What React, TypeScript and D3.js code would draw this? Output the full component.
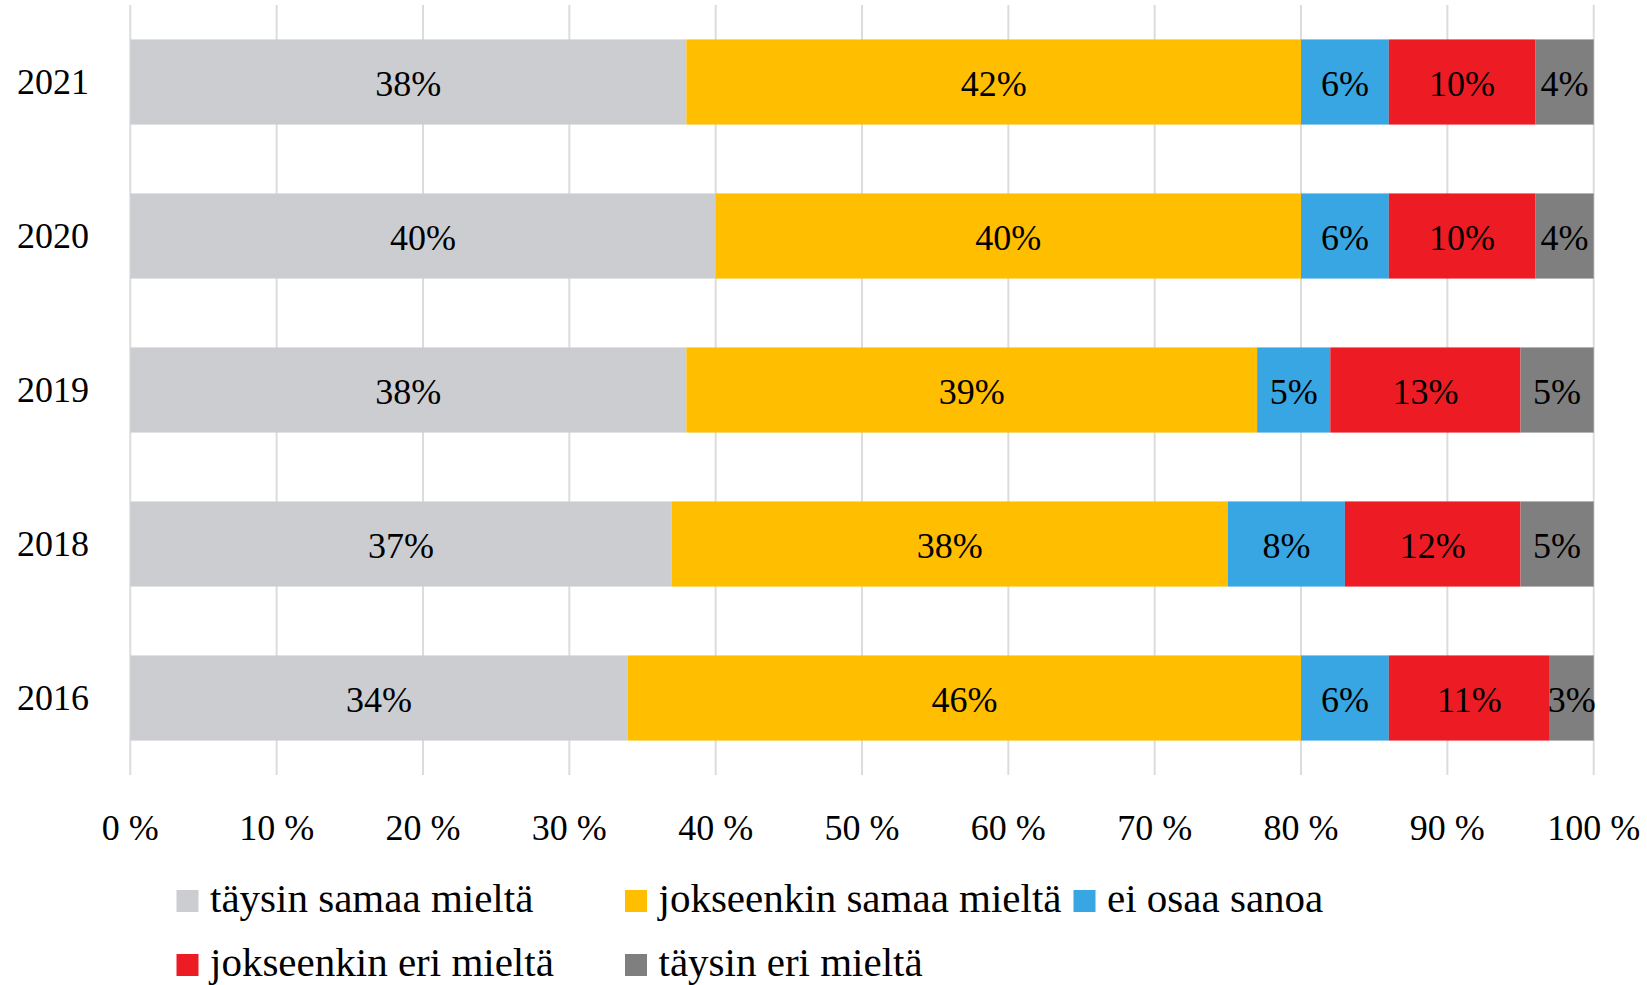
import { useRef, useEffect } from 'react';
import * as d3 from 'd3';

const YEARS = ['2021', '2020', '2019', '2018', '2016'];
const SERIES = ['täysin samaa mieltä', 'jokseenkin samaa mieltä', 'ei osaa sanoa', 'jokseenkin eri mieltä', 'täysin eri mieltä'];
const COLORS = ['#cccdd1', '#ffbe00', '#38a6e2', '#ed1c24', '#7f7f7f'];

// values per series, in YEARS order
const TAYSIN_SAMAA = [38, 40, 38, 37, 34];
const JOKSEENKIN_SAMAA = [42, 40, 39, 38, 46];
const EI_OSAA = [6, 6, 5, 8, 6];
const JOKSEENKIN_ERI = [10, 10, 13, 12, 11];
const TAYSIN_ERI = [4, 4, 5, 5, 3];

const TICKS = [0, 10, 20, 30, 40, 50, 60, 70, 80, 90, 100];

export default function App() {
  const ref = useRef<SVGSVGElement>(null);

  useEffect(() => {
    const svg = ref.current;
    if (!svg) return;
    const W = 1647, H = 985;
    const font = '"Liberation Serif", "Times New Roman", serif';

    d3.select(svg).selectAll('*').remove();
    const g = d3.select(svg).attr('viewBox', `0 0 ${W} ${H}`).append('g');

    const x = d3.scaleLinear().domain([0, 100]).range([130.3, 1593.7]);
    const y = d3.scaleBand().domain(YEARS).range([5, 775]).paddingInner(0.447).paddingOuter(0.2235);

    // Grid
    TICKS.forEach((t) => {
      g.append('line').attr('x1', x(t)).attr('x2', x(t)).attr('y1', 5).attr('y2', 775)
        .attr('stroke', '#dcdcdc').attr('stroke-width', 2);
      g.append('text').attr('x', x(t)).attr('y', 840).attr('text-anchor', 'middle')
        .attr('font-family', font).attr('font-size', 36).attr('fill', '#000').text(`${t} %`);
    });

    const rows = YEARS.map((yr, i) => ({
      year: yr,
      vals: [TAYSIN_SAMAA[i], JOKSEENKIN_SAMAA[i], EI_OSAA[i], JOKSEENKIN_ERI[i], TAYSIN_ERI[i]],
    }));
    const stacked = d3.stack<{ year: string; vals: number[] }, number>()
      .keys(SERIES.map((_, k) => k))
      .value((d, k) => d.vals[k])(rows);

    stacked.forEach((layer, k) => {
      layer.forEach((seg) => {
        const yr = seg.data.year;
        const y0 = y(yr)!;
        const bw = y.bandwidth();
        g.append('rect')
          .attr('x', x(seg[0])).attr('y', y0)
          .attr('width', x(seg[1]) - x(seg[0])).attr('height', bw)
          .attr('fill', COLORS[k]);
        g.append('text')
          .attr('x', (x(seg[0]) + x(seg[1])) / 2).attr('y', y0 + bw / 2 + 14)
          .attr('text-anchor', 'middle').attr('font-family', font).attr('font-size', 36)
          .attr('fill', '#000').text(`${seg[1] - seg[0]}%`);
      });
    });

    // Year labels
    YEARS.forEach((yr) => {
      g.append('text').attr('x', 17).attr('y', y(yr)! + y.bandwidth() / 2 + 12.3)
        .attr('font-family', font).attr('font-size', 36).attr('fill', '#000').text(yr);
    });

    // Legend
    SERIES.forEach((s, k) => {
      const col = k % 3, row = Math.floor(k / 3);
      const lx = 176.5 + col * 448.5;
      const ly = 890 + row * 64;
      g.append('rect').attr('x', lx).attr('y', ly).attr('width', 22).attr('height', 22).attr('fill', COLORS[k]);
      g.append('text').attr('x', lx + 33.5).attr('y', ly + 22)
        .attr('font-family', font).attr('font-size', 41).attr('fill', '#000').text(s);
    });
  }, []);

  return (
    <svg ref={ref} width={1647} height={985}
      style={{ position: 'absolute', left: 0, top: 0, display: 'block', background: '#fff' }} />
  );
}
